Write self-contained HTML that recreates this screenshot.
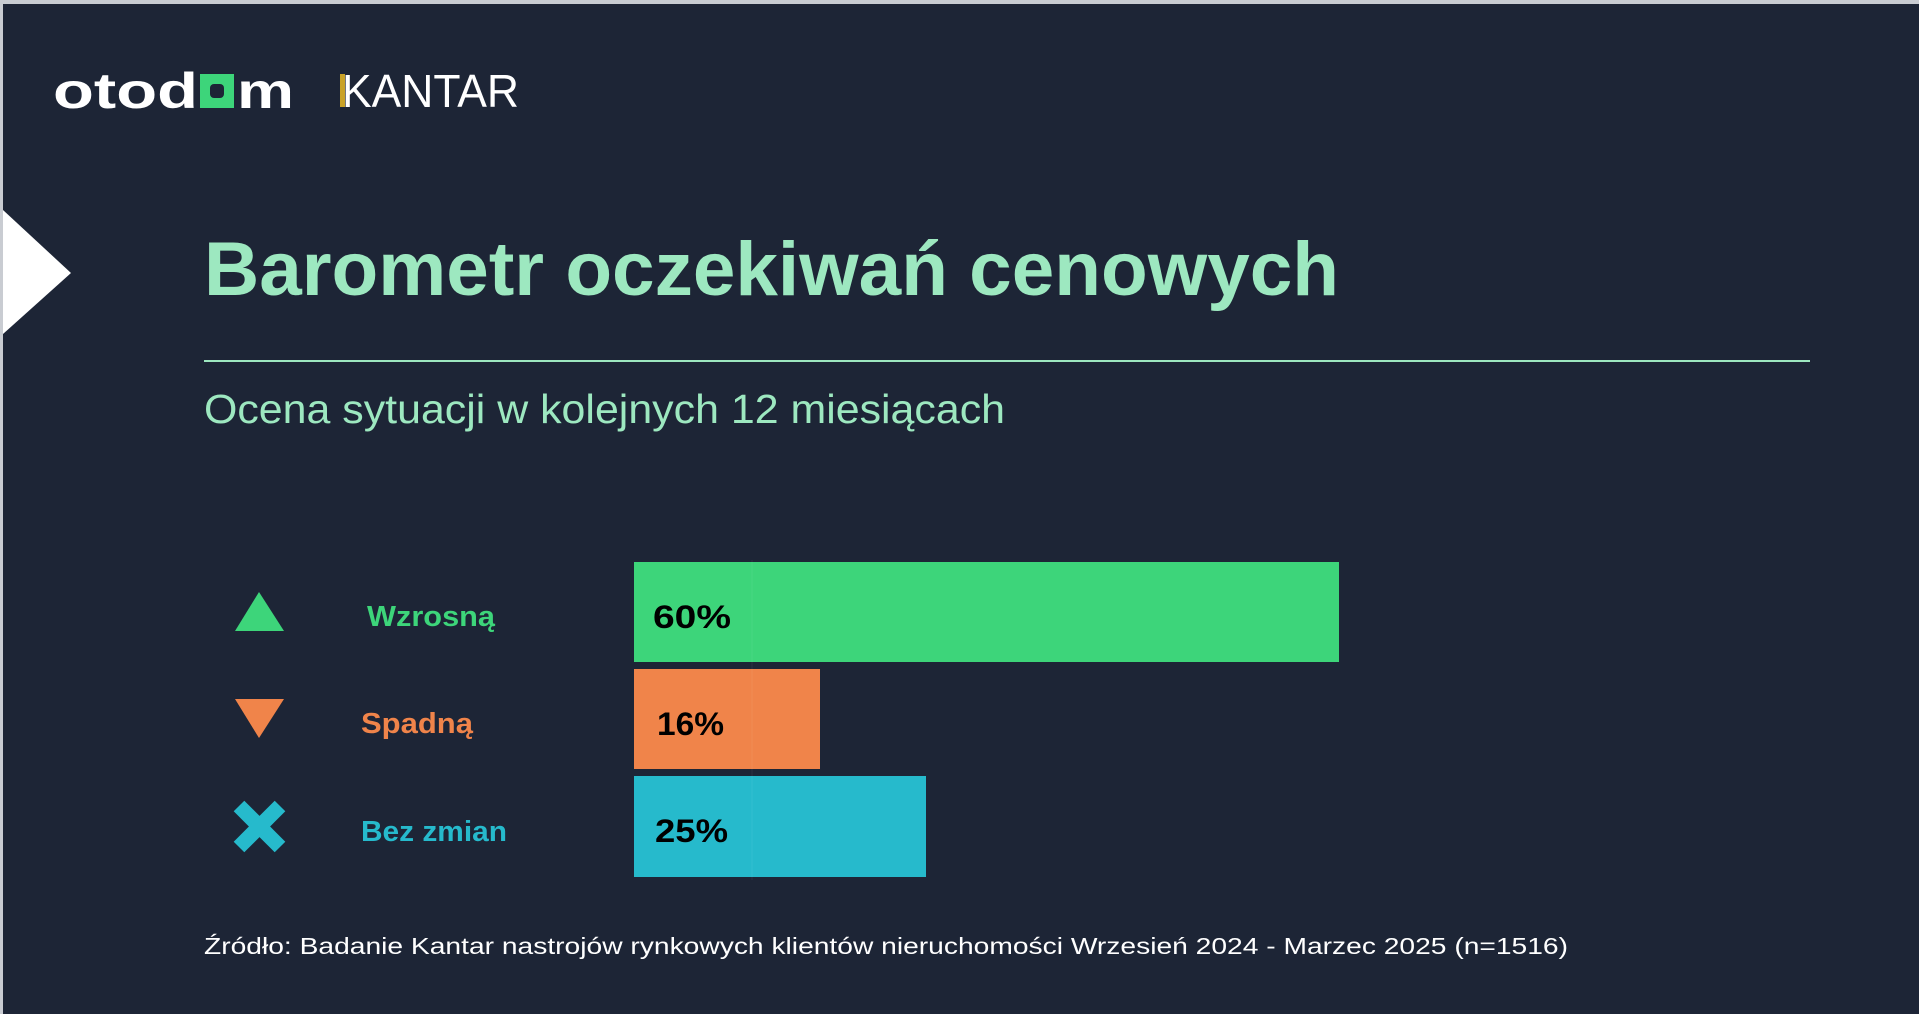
<!DOCTYPE html>
<html><head><meta charset="utf-8"><style>
html,body{margin:0;padding:0;background:#1d2536;}
svg{display:block}
</style></head><body>
<svg width="1919" height="1014" viewBox="0 0 1919 1014" xmlns="http://www.w3.org/2000/svg">
<rect x="0" y="0" width="1919" height="1014" fill="#1d2536"/>
<rect x="0" y="0" width="1919" height="4" fill="#c9ccd2"/>
<rect x="0" y="0" width="3" height="1014" fill="#c9ccd2"/>
<polygon points="3,210 71,273 3,334" fill="#ffffff"/>
<!-- logos -->
<text x="53" y="108" font-family="Liberation Sans, sans-serif" font-weight="bold" font-size="50" fill="#ffffff" textLength="145" lengthAdjust="spacingAndGlyphs">otod</text>
<rect x="200" y="74" width="34" height="34" fill="#3dd57a"/>
<rect x="210" y="84" width="14" height="14" rx="4" fill="#1d2536"/>
<text x="237" y="108" font-family="Liberation Sans, sans-serif" font-weight="bold" font-size="50" fill="#ffffff" textLength="57" lengthAdjust="spacingAndGlyphs">m</text>
<rect x="340" y="74" width="5" height="33" fill="#c9a227"/>
<text x="342" y="107" font-family="Liberation Sans, sans-serif" font-size="46" fill="#ffffff" textLength="177" lengthAdjust="spacingAndGlyphs">KANTAR</text>
<!-- title -->
<text x="204" y="295" font-family="Liberation Sans, sans-serif" font-weight="bold" font-size="76" fill="#9de8c0" textLength="1135" lengthAdjust="spacingAndGlyphs">Barometr oczekiwań cenowych</text>
<rect x="204" y="360" width="1606" height="2" fill="#9de8c0"/>
<text x="204" y="423" font-family="Liberation Sans, sans-serif" font-size="41" fill="#9de8c0" textLength="801" lengthAdjust="spacingAndGlyphs">Ocena sytuacji w kolejnych 12 miesiącach</text>
<!-- bars -->
<rect x="634" y="562" width="705" height="100" fill="#3dd57a"/>
<rect x="634" y="669" width="186" height="100" fill="#f0844a"/>
<rect x="634" y="776" width="292" height="101" fill="#26bacc"/>
<line x1="752" y1="560" x2="752" y2="880" stroke="#ffffff" stroke-opacity="0.06" stroke-width="1"/>
<g font-family="Liberation Sans, sans-serif" font-weight="bold" font-size="32" fill="#000">
<text x="653" y="628" textLength="78" lengthAdjust="spacingAndGlyphs">60%</text>
<text x="657" y="735" textLength="67" lengthAdjust="spacingAndGlyphs">16%</text>
<text x="655" y="842" textLength="73" lengthAdjust="spacingAndGlyphs">25%</text>
</g>
<!-- icons -->
<polygon points="259,592 284,631 235,631" fill="#3dd57a"/>
<polygon points="235,699 284,699 259,738" fill="#f0844a"/>
<g stroke="#26bacc" stroke-width="15" stroke-linecap="butt">
<line x1="239" y1="806" x2="280" y2="847"/>
<line x1="280" y1="806" x2="239" y2="847"/>
</g>
<!-- labels -->
<g font-family="Liberation Sans, sans-serif" font-weight="bold" font-size="29">
<text x="367" y="626" fill="#3dd57a" textLength="128" lengthAdjust="spacingAndGlyphs">Wzrosną</text>
<text x="361" y="733" fill="#f0844a" textLength="112" lengthAdjust="spacingAndGlyphs">Spadną</text>
<text x="361" y="841" fill="#26bacc" textLength="146" lengthAdjust="spacingAndGlyphs">Bez zmian</text>
</g>
<text x="204" y="954" font-family="Liberation Sans, sans-serif" font-size="23" fill="#ffffff" textLength="1364" lengthAdjust="spacingAndGlyphs">Źródło: Badanie Kantar nastrojów rynkowych klientów nieruchomości Wrzesień 2024 - Marzec 2025 (n=1516)</text>
</svg>
</body></html>
